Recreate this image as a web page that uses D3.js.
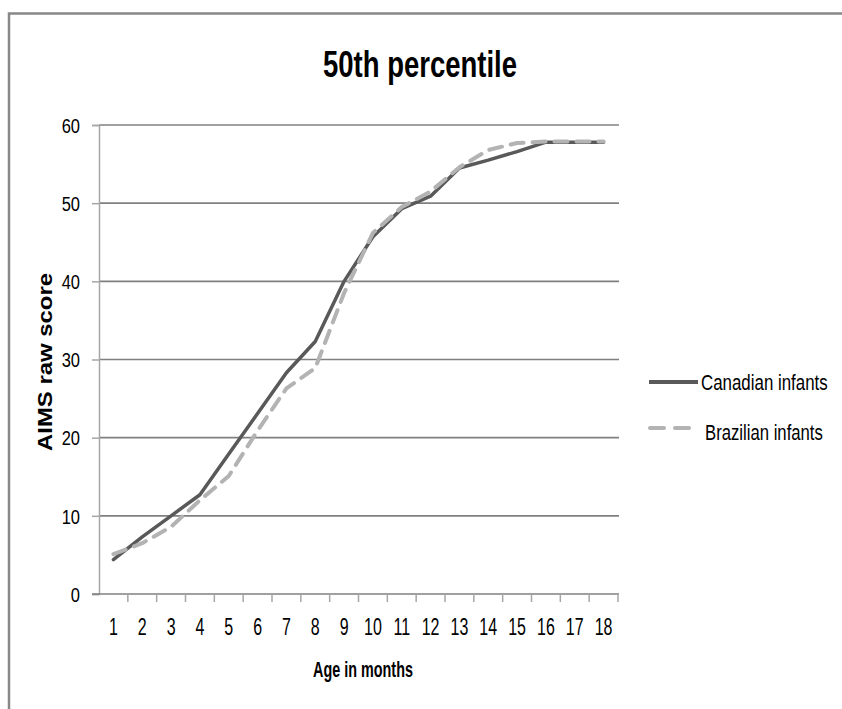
<!DOCTYPE html>
<html>
<head>
<meta charset="utf-8">
<script src="https://cdn.jsdelivr.net/npm/d3@7"></script>
<style>
  html, body { margin: 0; padding: 0; background: #fff; }
  svg { display: block; }
  text { font-family: "Liberation Sans", Arial, sans-serif; fill: #000; }
</style>
</head>
<body>
<svg id="chart" width="842" height="709"></svg>
<script>
// Age in months (categories)
const months = [1, 2, 3, 4, 5, 6, 7, 8, 9, 10, 11, 12, 13, 14, 15, 16, 17, 18];
// AIMS raw score, 50th percentile
const canadian = [4.4, 7.3, 10.0, 12.7, 17.9, 23.1, 28.3, 32.3, 40.0, 45.7, 49.3, 50.9, 54.5, 55.5, 56.6, 57.8, 57.8, 57.8];
const brazilian = [5.1, 6.5, 8.6, 12.0, 15.1, 20.9, 26.3, 28.9, 38.5, 46.2, 49.5, 51.5, 54.6, 56.8, 57.7, 57.9, 57.9, 57.9];
const yTicks = [0, 10, 20, 30, 40, 50, 60];
const seriesNames = ["Canadian infants", "Brazilian infants"];

const FONT = "Liberation Sans, Arial, sans-serif";
const svg = d3.select("#chart");

// narrow, tall lettering: regular glyphs stretched vertically
function tallText(parent, str, x, y, size, sy, opts = {}) {
  return parent.append("text")
    .attr("transform", `translate(${x},${y}) scale(1,${sy})`)
    .attr("font-family", FONT)
    .attr("font-size", size)
    .attr("font-weight", opts.bold ? "bold" : "normal")
    .attr("text-anchor", opts.anchor || "start")
    .text(str);
}

// outer frame
svg.append("path")
  .attr("d", "M9,709 L9,13.5 L842,13.5")
  .attr("fill", "none")
  .attr("stroke", "#888")
  .attr("stroke-width", 2.5);

const plot = { left: 99, right: 618, top: 125, bottom: 594 };

const x = d3.scaleBand().domain(months).range([plot.left, plot.right]).padding(0);
const y = d3.scaleLinear().domain([0, 60]).range([plot.bottom, plot.top]);
const cx = d => x(d) + x.bandwidth() / 2;

// horizontal gridlines
svg.append("g").selectAll("line")
  .data(yTicks.filter(t => t > 0))
  .join("line")
  .attr("x1", plot.left).attr("x2", plot.right + 1)
  .attr("y1", d => y(d)).attr("y2", d => y(d))
  .attr("stroke", "#808080").attr("stroke-width", 1.6);

// y axis
const yAxis = svg.append("g")
  .attr("transform", `translate(${plot.left},0)`)
  .call(d3.axisLeft(y).tickValues(yTicks).tickSize(7).tickPadding(11));
yAxis.select(".domain").attr("stroke", "#a6a6a6").attr("stroke-width", 1.5);
yAxis.selectAll(".tick line").attr("stroke", "#a6a6a6").attr("stroke-width", 1.5);
yAxis.selectAll(".tick text")
  .attr("x", null).attr("dy", null)
  .attr("transform", "translate(-19,7.2) scale(1,1.25)")
  .attr("font-family", FONT)
  .attr("font-size", 16.5).attr("fill", "#000");

// x axis: labels centred in each band, tick marks on band edges
const xAxis = svg.append("g")
  .attr("transform", `translate(0,${plot.bottom})`)
  .call(d3.axisBottom(x).tickSize(0));
xAxis.select(".domain").remove();
xAxis.selectAll(".tick text")
  .attr("y", null).attr("dy", null)
  .attr("transform", "translate(0,41) scale(1,1.5)")
  .attr("font-family", FONT)
  .attr("font-size", 16).attr("fill", "#000");

svg.append("line")
  .attr("x1", plot.left - 7).attr("x2", plot.right + 1)
  .attr("y1", y(0)).attr("y2", y(0))
  .attr("stroke", "#808080").attr("stroke-width", 1.6);

const edges = months.map(m => x(m)).concat([x(months[months.length - 1]) + x.bandwidth()]);
svg.append("g").selectAll("line")
  .data(edges.slice(1))
  .join("line")
  .attr("x1", d => d).attr("x2", d => d)
  .attr("y1", y(0)).attr("y2", y(0) + 8)
  .attr("stroke", "#a6a6a6").attr("stroke-width", 1.5);

// series lines
const line = d3.line()
  .x((d, i) => cx(months[i]))
  .y(d => y(d));

svg.append("path")
  .datum(canadian)
  .attr("d", line)
  .attr("fill", "none")
  .attr("stroke", "#595959")
  .attr("stroke-width", 3.5)
  .attr("stroke-linejoin", "round")
  .attr("stroke-linecap", "round");

svg.append("path")
  .datum(brazilian)
  .attr("d", line)
  .attr("fill", "none")
  .attr("stroke", "#b3b3b3")
  .attr("stroke-width", 4)
  .attr("stroke-dasharray", "13,9")
  .attr("stroke-linejoin", "round")
  .attr("stroke-linecap", "round");

// title
tallText(svg, "50th percentile", 323, 77, 27.5, 1.34, { bold: true });

// axis titles
svg.append("text")
  .attr("transform", "translate(52,362) rotate(-90)")
  .attr("text-anchor", "middle")
  .attr("font-family", FONT)
  .attr("font-size", 19.5).attr("font-weight", "bold")
  .attr("textLength", 178).attr("lengthAdjust", "spacingAndGlyphs")
  .text("AIMS raw score");

tallText(svg, "Age in months", 313, 677, 14.4, 1.5, { bold: true });

// legend
const legend = svg.append("g");
legend.append("line")
  .attr("x1", 649).attr("x2", 698).attr("y1", 382).attr("y2", 382)
  .attr("stroke", "#595959").attr("stroke-width", 4);
tallText(legend, seriesNames[0], 701, 390, 16.9, 1.32);

legend.append("line")
  .attr("x1", 650).attr("x2", 690).attr("y1", 428).attr("y2", 428)
  .attr("stroke", "#b3b3b3").attr("stroke-width", 4)
  .attr("stroke-dasharray", "14,11")
  .attr("stroke-linecap", "round");
tallText(legend, seriesNames[1], 705, 440, 16.7, 1.32);
</script>
</body>
</html>
